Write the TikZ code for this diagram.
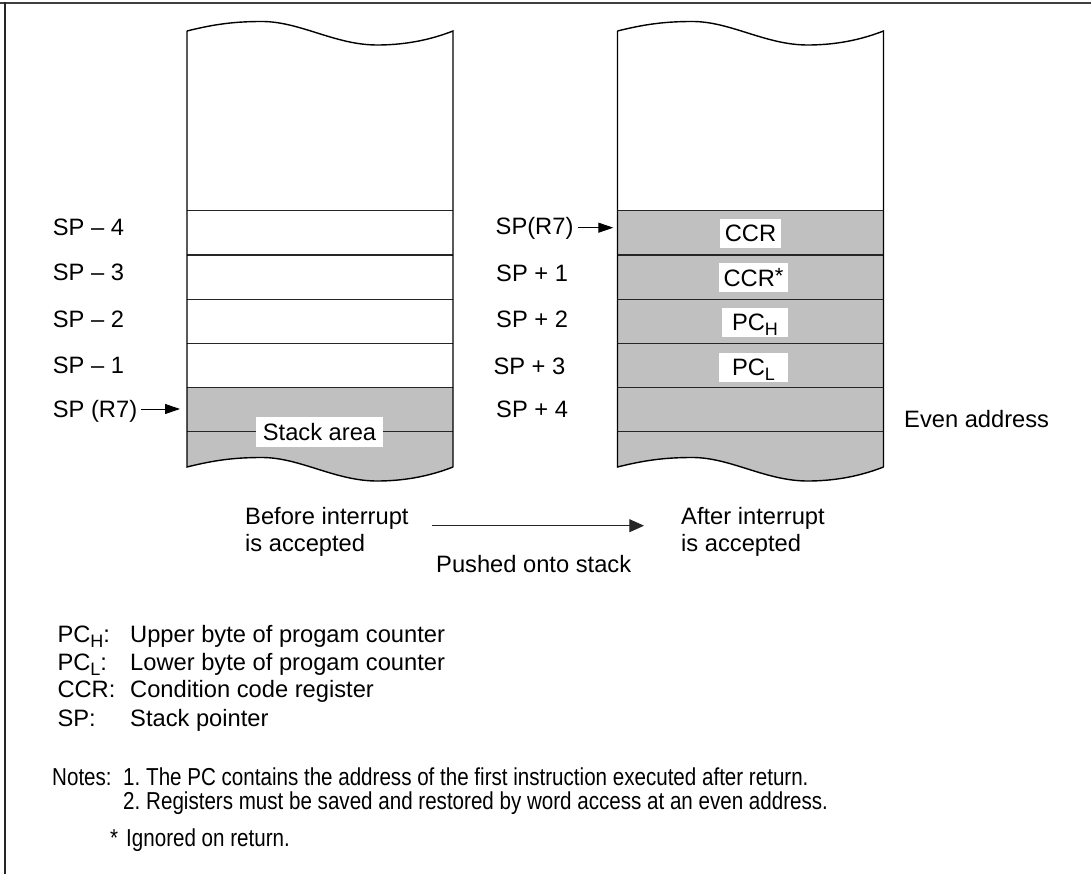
\documentclass[tikz,border=0pt]{standalone}
\usepackage{fontspec}
\setmainfont{Liberation Sans}
\newfontfamily\narrowfont[FakeStretch=0.84]{Liberation Sans}
\usetikzlibrary{arrows.meta}
\definecolor{stackgrey}{RGB}{192,192,192}
\newcommand\wavefrom[2]{(#1,#2) .. controls +(28,-7) and +(-27,0) .. ++(75,-9.5) .. controls +(38,0) and +(-42,0) .. ++(115,23.5) .. controls +(33,0) and +(-18,7) .. ++(76,-14)}
\newcommand\subs[1]{\raisebox{-5pt}{\fontsize{18}{20}\selectfont #1}}
\newcommand\supast{\raisebox{3pt}{\fontsize{22}{22}\selectfont *}}
\begin{document}
\begin{tikzpicture}[x=1pt,y=-1pt,
  font=\fontsize{23.7}{27.7}\selectfont,
  stackline/.style={line width=1.4pt,black},
  rowline/.style={line width=1.2pt,black!85},
  lbl/.style={anchor=base west,inner sep=0pt},
  box/.style={fill=white,inner xsep=1pt,inner ysep=6pt,text height=17pt,text depth=0pt},
  ptr/.style={line width=1pt,-{Triangle[length=15pt,width=10pt]}},
  pusharr/.style={line width=1pt,black!85,-{Triangle[length=14.7pt,width=13pt]}},
  notes/.style={lbl,font=\narrowfont\fontsize{24.5}{26}\selectfont}]
\useasboundingbox (0,0) rectangle (1091,874);
% frame
\draw[black!75,line width=1.8pt] (0,2.7) -- (1091,2.7);
\draw[black!85,line width=1.6pt] (5,2) -- (5,874);

% ---- left stack
\fill[stackgrey] (187,387.5) -- \wavefrom{187}{467} -- (453,387.5) -- cycle;
\foreach \yy in {210.7,255,299.3,343.3,387.5,431.7}
  \draw[rowline] (187,\yy) -- (453,\yy);
\draw[stackline] \wavefrom{187}{31} -- (453,467);
\draw[stackline] (187,31) -- \wavefrom{187}{467};
\node[box,inner xsep=6.5pt,inner ysep=6.5pt] (sa) at (319.5,431.5) {Stack area};

% ---- right stack
\fill[stackgrey] (617.5,210.7) -- \wavefrom{617.5}{467} -- (883.5,210.7) -- cycle;
\foreach \yy in {210.7,255,299.3,343.3,387.5,431.7}
  \draw[rowline] (617.5,\yy) -- (883.5,\yy);
\draw[stackline] \wavefrom{617.5}{31} -- (883.5,467);
\draw[stackline] (617.5,31) -- \wavefrom{617.5}{467};
\node[box,minimum width=61pt] (ccr) at (750.5,233.5) {CCR};
\node[box,minimum width=69pt] (ccrs) at (753.5,278) {CCR\supast};
\node[box,minimum width=66pt] (pch) at (755,322) {PC\subs{H}};
\node[box,minimum width=69pt] (pcl) at (753.5,367) {PC\subs{L}};

% ---- left labels
\node[lbl] (l4) at (52.7,236) {SP – 4};
\node[lbl] (l3) at (52.7,281) {SP – 3};
\node[lbl] (l2) at (52.7,327) {SP – 2};
\node[lbl] (l1) at (52.7,373) {SP – 1};
\node[lbl] (l0) at (52.7,417) {SP (R7)};
\coordinate (tipL) at (180,409);
\draw[ptr,shorten <=4pt] (l0.east |- tipL) -- (tipL);

% ---- right labels
\node[lbl] (r0) at (495.5,235) {SP(R7)};
\node[lbl] (r1) at (496,281.7) {SP + 1};
\node[lbl] (r2) at (496,327) {SP + 2};
\node[lbl] (r3) at (493.3,374) {SP + 3};
\node[lbl] (r4) at (496,417) {SP + 4};
\coordinate (tipR) at (613.3,227.7);
\draw[ptr,shorten <=4pt] (r0.east |- tipR) -- (tipR);
\node[lbl] (even) at (904,427.5) {Even address};

% ---- before / after (base = baseline of last line)
\node[lbl,align=left] (before) at (245,551.7) {Before interrupt\\is accepted};
\node[lbl,align=left] (after) at (681,551.7) {After interrupt\\is accepted};
\node[lbl] (push) at (436,572) {Pushed onto stack};
\coordinate (pl) at (0,525.7);
\draw[pusharr,shorten <=23.7pt,shorten >=37pt] (before.east |- pl) -- (after.west |- pl);

% ---- legend
\node[lbl] (kh) at (57.3,642) {PC\subs{H}:};
\node[lbl] (kht) at (130,642) {Upper byte of progam counter};
\node[lbl] (kl) at (57.3,670) {PC\subs{L}:};
\node[lbl] (klt) at (130,670) {Lower byte of progam counter};
\node[lbl] (kc) at (57.3,697.5) {CCR:};
\node[lbl] (kct) at (130,697.5) {Condition code register};
\node[lbl] (ks) at (57.3,726) {SP:};
\node[lbl] (kst) at (130,726) {Stack pointer};

% ---- notes
\node[notes] (n0) at (52,785) {Notes:};
\node[notes] (n1) at (123,785) {1.};
\node[notes] (n1t) at (146,785) {The PC contains the address of the first instruction executed after return.};
\node[notes] (n2) at (123,809) {2.};
\node[notes] (n2t) at (146,809) {Registers must be saved and restored by word access at an even address.};
\node[notes] (na) at (110,846.7) {*};
\node[notes] (nat) at (126,846.7) {Ignored on return.};
\end{tikzpicture}
\end{document}
